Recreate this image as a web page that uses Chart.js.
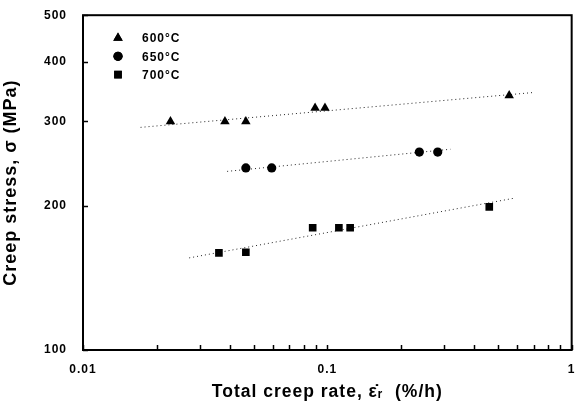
<!DOCTYPE html>
<html>
<head>
<meta charset="utf-8">
<script src="https://cdn.jsdelivr.net/npm/chart.js@4.4.0/dist/chart.umd.min.js"></script>
<style>
  html, body { margin: 0; padding: 0; background: #fff; }
  #wrap { width: 579px; height: 403px; }
</style>
</head>
<body>
<div id="wrap"><canvas id="grafica" width="579" height="403"></canvas></div>
<script>
// datos
const etiquetas = ["600°C", "650°C", "700°C"];
const rate600 = [0.0228, 0.0381, 0.0464, 0.0891, 0.0978, 0.555];
const stress600 = [300, 300, 300, 320, 320, 340];
const rate650 = [0.0464, 0.0592, 0.238, 0.283];
const stress650 = [240, 240, 259, 259];
const rate700 = [0.0360, 0.0464, 0.0871, 0.1115, 0.124, 0.460];
const stress700 = [159.5, 160, 180, 180, 180, 199];

// rectas de ajuste (extremos)
const fitRate600 = [0.0172, 0.707];
const fitStress600 = [291.6, 345];
const fitRate650 = [0.0389, 0.319];
const fitStress650 = [236, 262.5];
const fitRate700 = [0.0272, 0.586];
const fitStress700 = [155.7, 207.6];

const xMayores = [0.01, 0.1, 1];
const xTicks = [0.01,0.02,0.03,0.04,0.05,0.06,0.07,0.08,0.09,0.1,0.2,0.3,0.4,0.5,0.6,0.7,0.8,0.9,1];
const yTicks = [100, 200, 300, 400, 500];

const fuente = "'Liberation Sans', Arial, sans-serif";
const puntos = (xs, ys) => xs.map((x, i) => ({ x: x, y: ys[i] }));

function serie(label, xs, ys, estilo, radio) {
  return {
    label: label,
    data: puntos(xs, ys),
    pointStyle: estilo,
    pointRadius: radio,
    pointBackgroundColor: "#000",
    pointBorderColor: "#000",
    pointBorderWidth: 0,
    showLine: false
  };
}

function ajuste(xs, ys) {
  return {
    label: "",
    data: puntos(xs, ys),
    showLine: true,
    borderColor: "#222",
    borderWidth: 1,
    borderDash: [1, 3],
    pointRadius: 0,
    fill: false
  };
}

// espaciado de letras como en la figura
const espaciado = {
  id: "espaciado",
  beforeDraw(chart) { chart.ctx.letterSpacing = "1px"; }
};

// ticks hacia adentro + marco + leyenda
const marco = {
  id: "marco",
  afterDraw(chart) {
    const ctx = chart.ctx;
    const a = chart.chartArea;
    const sx = chart.scales.x, sy = chart.scales.y;
    ctx.save();
    ctx.strokeStyle = "#000";
    ctx.lineWidth = 1.5;
    xTicks.forEach(v => {
      const px = Math.round(sx.getPixelForValue(v)) + 0.5;
      ctx.beginPath();
      ctx.moveTo(px, a.bottom);
      ctx.lineTo(px, a.bottom - 5);
      ctx.stroke();
    });
    yTicks.forEach(v => {
      const py = Math.round(sy.getPixelForValue(v)) + 0.5;
      ctx.beginPath();
      ctx.moveTo(a.left, py);
      ctx.lineTo(a.left + 5, py);
      ctx.stroke();
    });
    ctx.lineWidth = 2;
    ctx.strokeRect(a.left, a.top, a.right - a.left, a.bottom - a.top);

    const filas = [
      { txt: etiquetas[0], estilo: "triangle", r: 5.5 },
      { txt: etiquetas[1], estilo: "circle", r: 4.6 },
      { txt: etiquetas[2], estilo: "rect", r: 5.4 }
    ];
    ctx.fillStyle = "#000";
    ctx.font = "bold 12px " + fuente;
    ctx.textBaseline = "middle";
    filas.forEach((f, i) => {
      const y = 38 + i * 18.3;
      Chart.helpers.drawPoint(ctx, { pointStyle: f.estilo, radius: f.r, borderWidth: 0 }, 118, y);
      ctx.fill();
      ctx.fillText(f.txt, 142, y + 1);
    });
    ctx.restore();
  }
};

new Chart(document.getElementById("grafica"), {
  type: "scatter",
  data: {
    datasets: [
      serie(etiquetas[0], rate600, stress600, "triangle", 5.5),
      serie(etiquetas[1], rate650, stress650, "circle", 4.6),
      serie(etiquetas[2], rate700, stress700, "rect", 5.4),
      ajuste(fitRate600, fitStress600),
      ajuste(fitRate650, fitStress650),
      ajuste(fitRate700, fitStress700)
    ]
  },
  options: {
    responsive: false,
    animation: false,
    layout: { padding: { top: 12, right: 4, left: 0, bottom: 0 } },
    plugins: { legend: { display: false }, tooltip: { enabled: false } },
    scales: {
      x: {
        type: "logarithmic",
        min: 0.01,
        max: 1,
        afterBuildTicks: (s) => { s.ticks = xTicks.map(v => ({ value: v })); },
        afterFit: (s) => { s.height = 53; },
        grid: { display: false },
        border: { display: false },
        ticks: {
          autoSkip: false,
          maxRotation: 0,
          padding: 4,
          color: "#000",
          font: { family: fuente, size: 12, weight: "bold" },
          callback: (v) => xMayores.includes(v) ? String(v) : ""
        },
        title: {
          display: true,
          text: "Total creep rate, ε̇ᵣ  (%/h)",
          color: "#000",
          padding: { top: 7, bottom: 0 },
          font: { family: fuente, size: 17.5, weight: "bold" }
        }
      },
      y: {
        type: "logarithmic",
        min: 100,
        max: 500,
        afterBuildTicks: (s) => { s.ticks = yTicks.map(v => ({ value: v })); },
        afterFit: (s) => { s.width = 83; },
        grid: { display: false },
        border: { display: false },
        ticks: {
          autoSkip: false,
          padding: 8,
          color: "#000",
          font: { family: fuente, size: 12, weight: "bold" },
          callback: (v) => String(v)
        },
        title: {
          display: true,
          text: "Creep stress, σ (MPa)",
          color: "#000",
          padding: { top: 0, bottom: 5 },
          font: { family: fuente, size: 18, weight: "bold" }
        }
      }
    }
  },
  plugins: [espaciado, marco]
});
</script>
</body>
</html>
